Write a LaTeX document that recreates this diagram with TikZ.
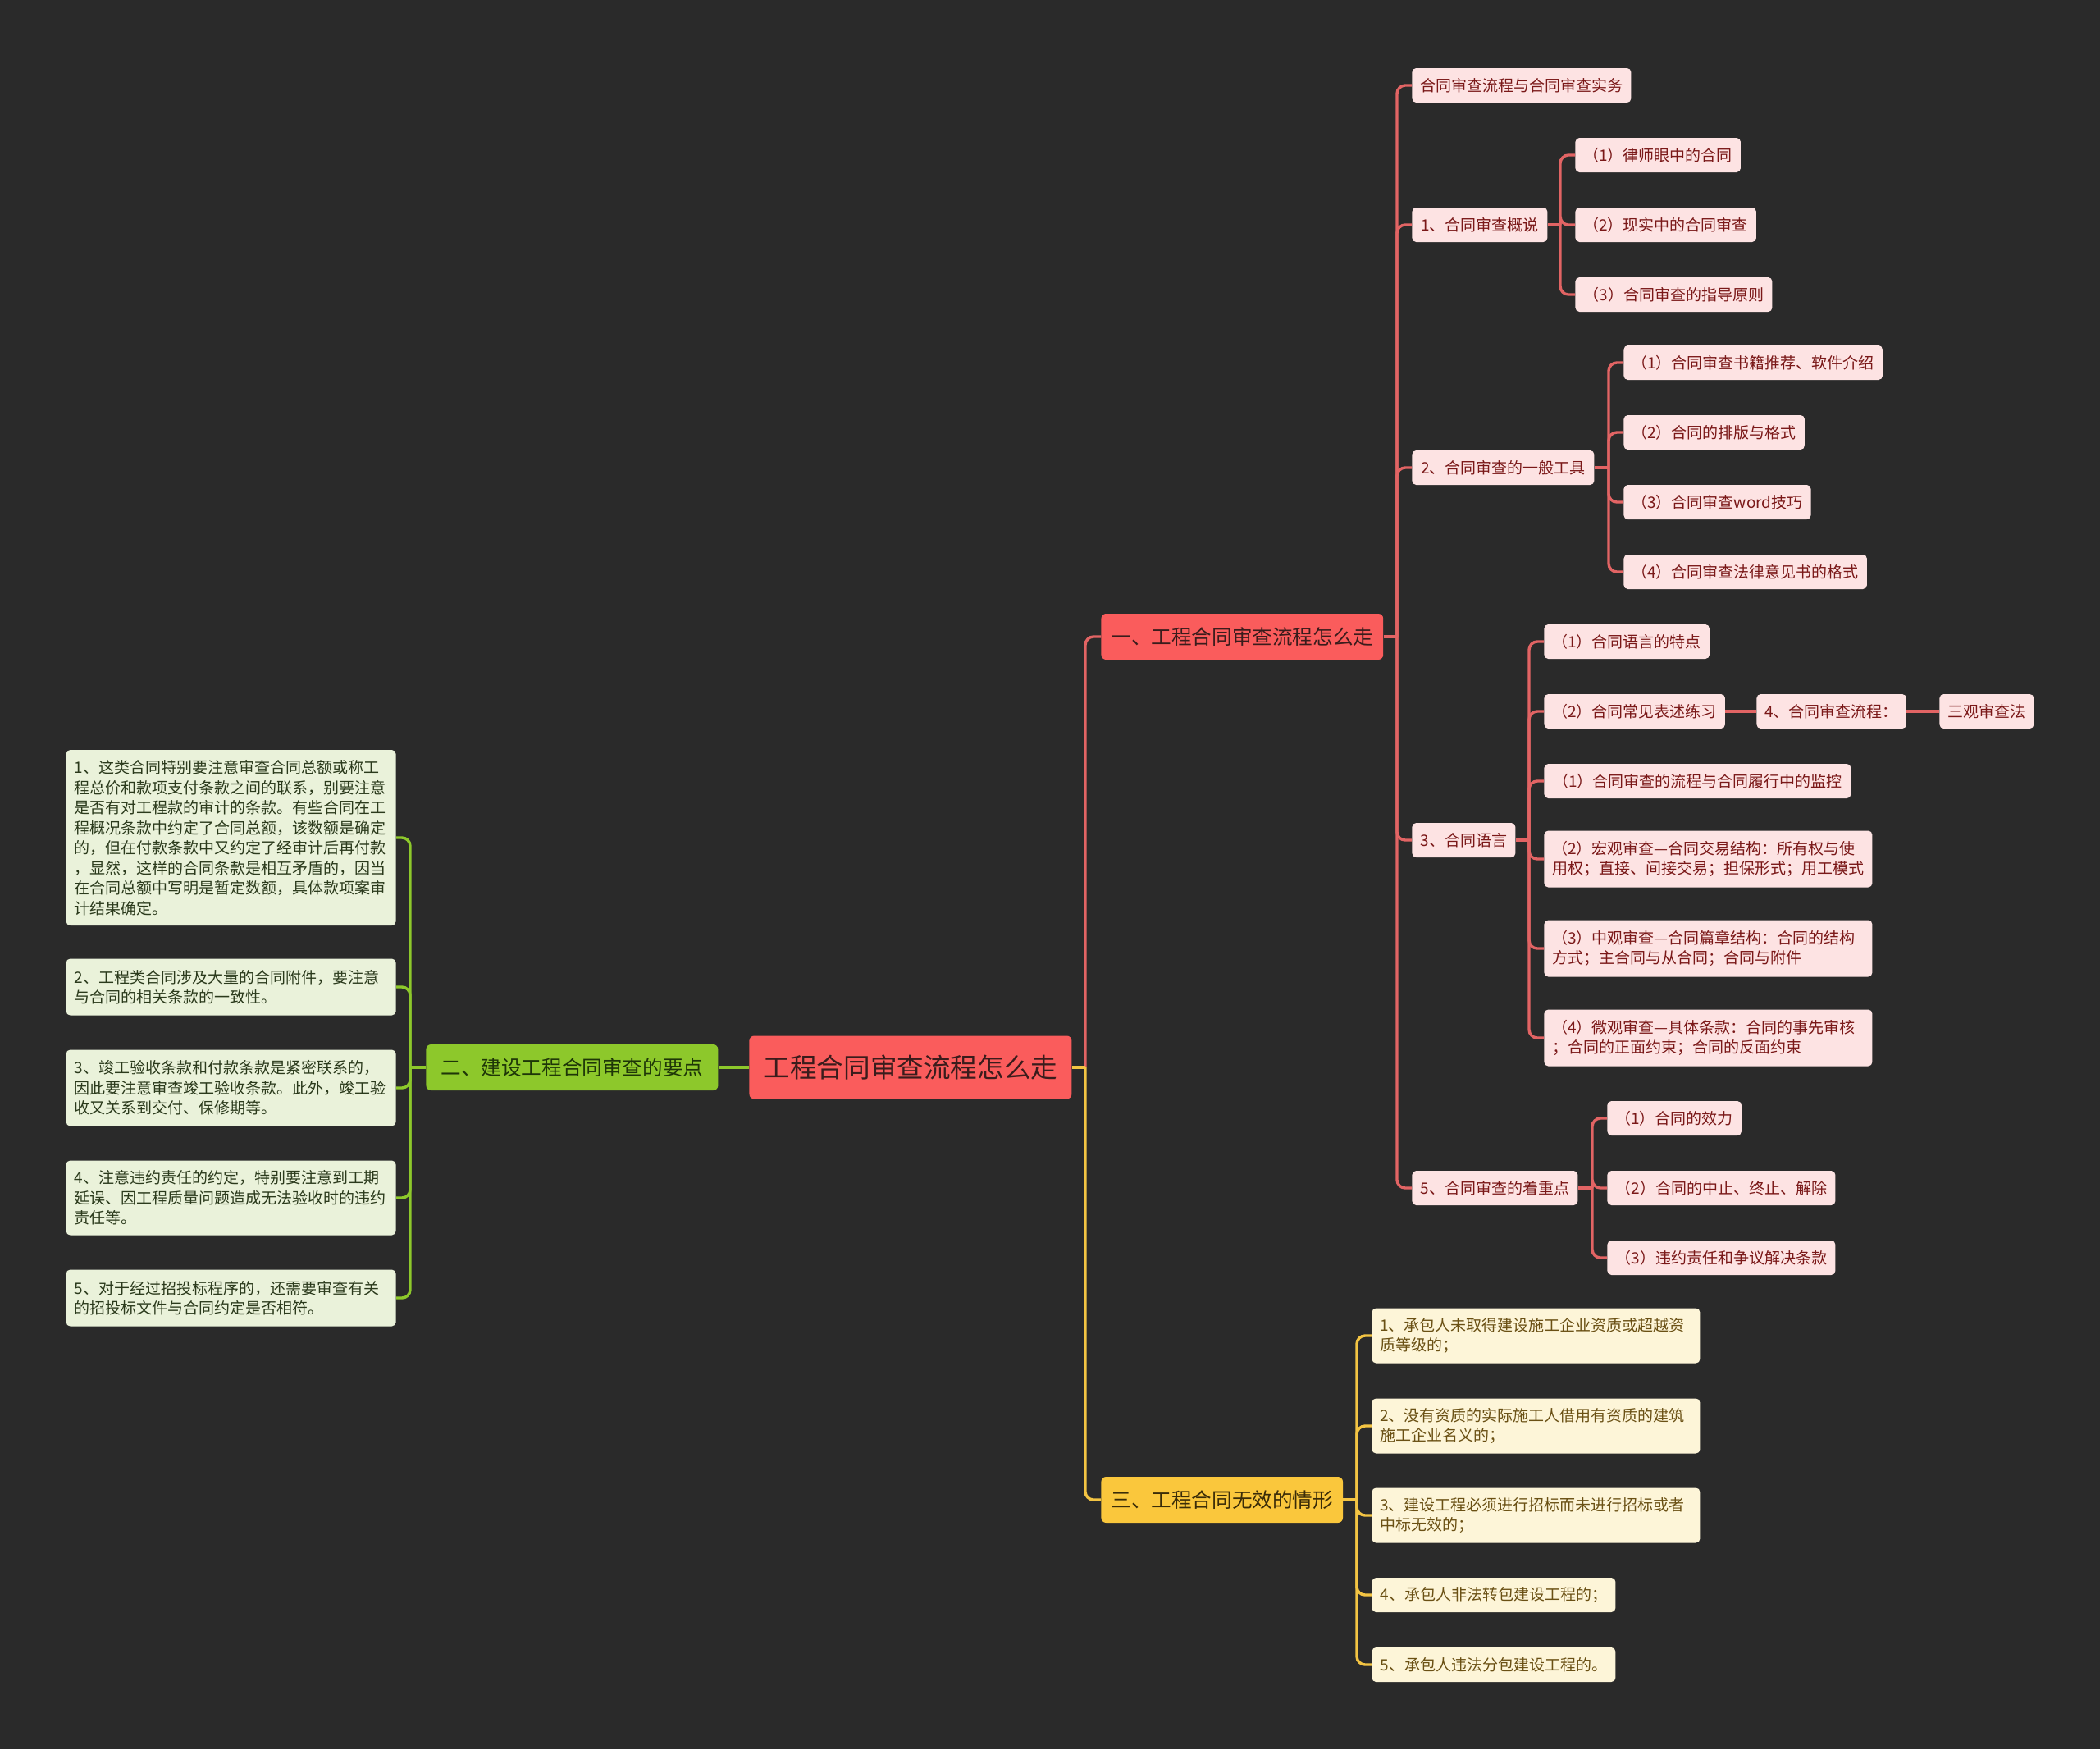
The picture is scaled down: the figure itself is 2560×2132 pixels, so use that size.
\documentclass[tikz,border=0pt]{standalone}
\usepackage{fontspec}
\setmainfont{Noto Sans CJK SC}
\definecolor{bg}{HTML}{2A2A2A}
\definecolor{rootred}{HTML}{FA5C5C}
\definecolor{roottext}{HTML}{3A1C1C}
\definecolor{pinkfill}{HTML}{FDE3E3}
\definecolor{pinktext}{HTML}{7A1818}
\definecolor{rlinec}{HTML}{E26464}
\definecolor{gfill}{HTML}{8DC82B}
\definecolor{gtext}{HTML}{1E3608}
\definecolor{glinec}{HTML}{8DC82B}
\definecolor{gchild}{HTML}{EAF2DA}
\definecolor{gchildtext}{HTML}{2B3A1C}
\definecolor{yfill}{HTML}{FAC73C}
\definecolor{ytext}{HTML}{3A2C08}
\definecolor{ylinec}{HTML}{F3C443}
\definecolor{ychild}{HTML}{FDF5D8}
\definecolor{ychildtext}{HTML}{6A5014}
\tikzset{
  basebox/.style={rounded corners=2.5pt, inner xsep=5pt, inner ysep=3pt, anchor=west,
    font=\fontsize{9.5pt}{12.25pt}\selectfont},
  pink/.style={basebox, fill=pinkfill, text=pinktext, minimum height=21pt},
  pinkm/.style={pink, align=left, text width=190pt, minimum height=34.5pt},
  gkid/.style={basebox, anchor=east, fill=gchild, text=gchildtext, align=left, text width=191pt},
  ykid/.style={basebox, fill=ychild, text=ychildtext, minimum height=21pt},
  ykidm/.style={ykid, align=left, text width=190pt, minimum height=33.5pt},
  mainbox/.style={rounded corners=3pt, anchor=west, minimum height=28pt, inner xsep=6pt,
    font=\fontsize{12.3pt}{14pt}\selectfont},
  rline/.style={draw=rlinec, line width=1.7pt},
  gline/.style={draw=glinec, line width=1.7pt},
  yline/.style={draw=ylinec, line width=1.7pt},
  turn/.style={rounded corners=5pt}
}
\begin{document}
\begin{tikzpicture}[x=0.5pt,y=-0.5pt]
\fill[bg] (0,0) rectangle (2560,2132);
\useasboundingbox (0,0) rectangle (2560,2132);

% root and main branches
\node[rounded corners=3pt, anchor=west, fill=rootred, text=roottext, minimum width=196.5pt,
  minimum height=38.5pt, font=\fontsize{16.3pt}{18pt}\selectfont] (root) at (913,1301) {工程合同审查流程怎么走};
\node[mainbox, fill=rootred, text=roottext, minimum width=171.5pt] (b1) at (1342,776) {一、工程合同审查流程怎么走};
\node[mainbox, fill=gfill, text=gtext, minimum width=178pt] (b2) at (519,1301) {二、建设工程合同审查的要点};
\node[mainbox, fill=yfill, text=ytext, minimum width=147pt] (b3) at (1342,1828) {三、工程合同无效的情形};

% red level 2
\node[pink, minimum width=133pt] (a0) at (1721,104) {合同审查流程与合同审查实务};
\node[pink, minimum width=82.5pt] (a1) at (1721,274) {1、合同审查概说};
\node[pink, minimum width=111pt] (a2) at (1721,570) {2、合同审查的一般工具};
\node[pink, minimum width=63pt] (a3) at (1721,1024) {3、合同语言};
\node[pink, minimum width=101pt] (a5) at (1721,1448) {5、合同审查的着重点};

% under a1
\node[pink, minimum width=100.5pt] (a11) at (1920,189) {（1）律师眼中的合同};
\node[pink, minimum width=110pt] (a12) at (1920,274) {（2）现实中的合同审查};
\node[pink, minimum width=120pt] (a13) at (1920,359) {（3）合同审查的指导原则};

% under a2
\node[pink, minimum width=157.5pt] (a21) at (1979,442) {（1）合同审查书籍推荐、软件介绍};
\node[pink, minimum width=110pt] (a22) at (1979,527) {（2）合同的排版与格式};
\node[pink, minimum width=113.5pt] (a23) at (1979,612) {（3）合同审查word技巧};
\node[pink, minimum width=148pt] (a24) at (1979,697) {（4）合同审查法律意见书的格式};

% under a3
\node[pink, minimum width=100.5pt] (a31) at (1882,782) {（1）合同语言的特点};
\node[pink, minimum width=110pt] (a32) at (1882,867) {（2）合同常见表述练习};
\node[pink, minimum width=90.5pt] (a32b) at (2141,867) {4、合同审查流程：};
\node[pink, minimum width=56.5pt] (a32c) at (2364,867) {三观审查法};
\node[pink, minimum width=187pt] (a33) at (1882,952) {（1）合同审查的流程与合同履行中的监控};
\node[pinkm] (a34) at (1882,1047) {（2）宏观审查—合同交易结构：所有权与使\\用权；直接、间接交易；担保形式；用工模式};
\node[pinkm] (a35) at (1882,1156) {（3）中观审查—合同篇章结构：合同的结构\\方式；主合同与从合同；合同与附件};
\node[pinkm] (a36) at (1882,1265) {（4）微观审查—具体条款：合同的事先审核\\；合同的正面约束；合同的反面约束};

% under a5
\node[pink, minimum width=81pt] (a51) at (1959,1363) {（1）合同的效力};
\node[pink, minimum width=139pt] (a52) at (1959,1448) {（2）合同的中止、终止、解除};
\node[pink, minimum width=139pt] (a53) at (1959,1533) {（3）违约责任和争议解决条款};

% yellow children
\node[ykidm] (y1) at (1672,1628) {1、承包人未取得建设施工企业资质或超越资\\质等级的；};
\node[ykidm] (y2) at (1672,1738) {2、没有资质的实际施工人借用有资质的建筑\\施工企业名义的；};
\node[ykidm] (y3) at (1672,1847) {3、建设工程必须进行招标而未进行招标或者\\中标无效的；};
\node[ykid, minimum width=148.5pt] (y4) at (1672,1944) {4、承包人非法转包建设工程的；};
\node[ykid, minimum width=148.5pt] (y5) at (1672,2029) {5、承包人违法分包建设工程的。};

% green children
\node[gkid, minimum height=107pt] (g1) at (483,1021) {1、这类合同特别要注意审查合同总额或称工\\程总价和款项支付条款之间的联系，别要注意\\是否有对工程款的审计的条款。有些合同在工\\程概况条款中约定了合同总额，该数额是确定\\的，但在付款条款中又约定了经审计后再付款\\，显然，这样的合同条款是相互矛盾的，因当\\在合同总额中写明是暂定数额，具体款项案审\\计结果确定。};
\node[gkid, minimum height=34.5pt] (g2) at (483,1203) {2、工程类合同涉及大量的合同附件，要注意\\与合同的相关条款的一致性。};
\node[gkid, minimum height=46.5pt] (g3) at (483,1326) {3、竣工验收条款和付款条款是紧密联系的，\\因此要注意审查竣工验收条款。此外，竣工验\\收又关系到交付、保修期等。};
\node[gkid, minimum height=45.5pt] (g4) at (483,1460) {4、注意违约责任的约定，特别要注意到工期\\延误、因工程质量问题造成无法验收时的违约\\责任等。};
\node[gkid, minimum height=34.5pt] (g5) at (483,1582) {5、对于经过招投标程序的，还需要审查有关\\的招投标文件与合同约定是否相符。};

% ---- connectors ----
% root -> b1 / b3
\coordinate (rs) at (1323,1301);
\draw[rline, turn] (rs) |- (b1.west);
\draw[yline, turn] (rs) |- (b3.west);
\draw[yline] (root.east) -- (rs);
% root -> b2
\draw[gline] (root.west) -- (b2.east);
% b2 -> green kids
\coordinate (gs) at (500,1301);
\draw[gline] (b2.west) -- (gs);
\foreach \k in {g1,g2,g3,g4,g5} \draw[gline, turn] (gs) |- (\k.east);
% b1 -> red level 2
\coordinate (s1) at (1703,776);
\draw[rline] (b1.east) -- (s1);
\foreach \k in {a0,a1,a2,a3,a5} \draw[rline, turn] (s1) |- (\k.west);
% a1
\coordinate (s11) at (1902,274);
\draw[rline] (a1.east) -- (s11);
\foreach \k in {a11,a12,a13} \draw[rline, turn] (s11) |- (\k.west);
% a2
\coordinate (s21) at (1961,570);
\draw[rline] (a2.east) -- (s21);
\foreach \k in {a21,a22,a23,a24} \draw[rline, turn] (s21) |- (\k.west);
% a3
\coordinate (s31) at (1864,1024);
\draw[rline] (a3.east) -- (s31);
\foreach \k in {a31,a32,a33,a34,a35,a36} \draw[rline, turn] (s31) |- (\k.west);
\draw[rline] (a32.east) -- (a32b.west);
\draw[rline] (a32b.east) -- (a32c.west);
% a5
\coordinate (s51) at (1941,1448);
\draw[rline] (a5.east) -- (s51);
\foreach \k in {a51,a52,a53} \draw[rline, turn] (s51) |- (\k.west);
% b3 -> yellow kids
\coordinate (ys) at (1654,1828);
\draw[yline] (b3.east) -- (ys);
\foreach \k in {y1,y2,y3,y4,y5} \draw[yline, turn] (ys) |- (\k.west);
\end{tikzpicture}
\end{document}
